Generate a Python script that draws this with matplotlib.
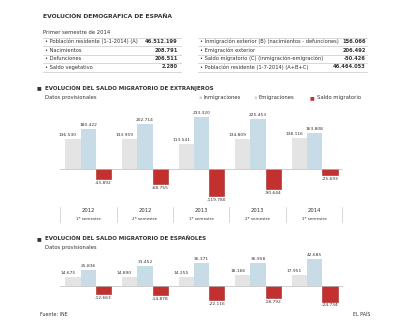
import matplotlib
matplotlib.use("Agg")
import matplotlib.pyplot as plt
import numpy as np

W, H = 414, 323

# resumen demografico (primer semestre 2014)
left_labels = ["• Población residente (1-1-2014) (A)", "• Nacimientos", "• Defunciones", "• Saldo vegetativo"]
left_values = ["46.512.199", "208.791", "206.511", "2.280"]
right_labels = ["• Inmigración exterior (B) (nacimientos - defunciones)", "• Emigración exterior",
                "• Saldo migratorio (C) (inmigración-emigración)", "• Población residente (1-7-2014) (A+B+C)"]
right_values = ["156.066", "206.492", "-50.426", "46.464.053"]

# periodos
years = ["2012", "2012", "2013", "2013", "2014"]
semesters = ["1º semestre", "2º semestre", "1º semestre", "2º semestre", "1º semestre"]

# extranjeros
ext_inmig = [136530, 133959, 113541, 134809, 138116]
ext_emig = [180422, 202714, 233320, 225453, 163808]
ext_saldo = [-43892, -68755, -119780, -90644, -25693]

# espanoles
esp_inmig = [14675, 14890, 14255, 18166, 17951]
esp_emig = [25836, 31452, 36371, 36958, 42685]
esp_saldo = [-12663, -14878, -22116, -18792, -24734]

c_inm = "#e4e4e4"
c_emi = "#c8dce8"
c_sal = "#c2312f"
c_txt = "#333333"
c_line = "#c8c8c8"

fig = plt.figure(figsize=(W / 100, H / 100), dpi=100)
fig.patch.set_facecolor("white")


def px(x, y):
    return x / W, 1 - y / H


def text(x, y, s, **kw):
    kw.setdefault("fontsize", 3.7)
    kw.setdefault("color", c_txt)
    kw.setdefault("va", "center")
    fig.text(*px(x, y), s, **kw)


def hline(x0, x1, y, color=c_line, lw=0.5):
    fig.add_artist(plt.Line2D([x0 / W, x1 / W], [1 - y / H, 1 - y / H], color=color, lw=lw))


def fmt(v):
    return f"{v:,}".replace(",", ".")


# cabecera
text(43, 16, "EVOLUCIÓN DEMOGRÁFICA DE ESPAÑA", fontsize=4.3, fontweight="bold")
text(43, 32, "Primer semestre de 2014", fontsize=3.8)

row_y = [41.5, 50, 58.5, 67]
for y in [37.5, 46, 54.5, 63, 71.5]:
    hline(43, 181, y)
    hline(198, 367, y)
for i in range(4):
    text(45, row_y[i], left_labels[i])
    text(178, row_y[i], left_values[i], ha="right", fontweight="bold")
    text(200, row_y[i], right_labels[i])
    text(366, row_y[i], right_values[i], ha="right", fontweight="bold")


def section(y, title):
    text(37, y, "■", fontsize=3.6)
    text(45, y, title, fontsize=4.0, fontweight="bold")
    text(45, y + 9, "Datos provisionales", fontsize=3.8)


section(88, "EVOLUCIÓN DEL SALDO MIGRATORIO DE EXTRANJEROS")
section(239, "EVOLUCIÓN DEL SALDO MIGRATORIO DE ESPAÑOLES")

# leyenda
text(199, 98, "▪", color="#d0d0d0", fontsize=3.6)
text(204, 98, "Inmigraciones", fontsize=3.8)
text(254, 98, "▪", color=c_emi, fontsize=3.6)
text(259, 98, "Emigraciones", fontsize=3.8)
text(310, 98, "■", color=c_sal, fontsize=3.6)
text(317, 98, "Saldo migratorio", fontsize=3.8)


def chart(top, bottom, ylim, inm, emi, sal, off):
    x0, x1 = 60, 343
    ax = fig.add_axes([x0 / W, 1 - bottom / H, (x1 - x0) / W, (bottom - top) / H])
    ax.set_xlim(-0.5, 4.5)
    ax.set_ylim(*ylim)
    ax.axis("off")
    x = np.arange(len(inm))
    bw = 0.27
    ax.bar(x - bw, inm, bw, color=c_inm)
    ax.bar(x, emi, bw, color=c_emi)
    ax.bar(x + bw, sal, bw, color=c_sal, edgecolor="#9e2422", lw=0.4)
    ax.axhline(0, color="#bbbbbb", lw=0.5)
    for b in np.arange(-0.5, 5, 1):
        ax.plot([b, b], [-off * 0.15, off * 0.15], color="#bbbbbb", lw=0.4)
    for i in range(len(inm)):
        ax.text(x[i] - bw - 0.09, inm[i] + off, fmt(inm[i]), ha="center", va="bottom", fontsize=3.2, color=c_txt)
        ax.text(x[i], emi[i] + off, fmt(emi[i]), ha="center", va="bottom", fontsize=3.2, color=c_txt)
        ax.text(x[i] + bw, sal[i] - off, fmt(sal[i]), ha="center", va="top", fontsize=3.2, color=c_txt)
    return ax


chart(108, 200, (-139000, 274000), ext_inmig, ext_emig, ext_saldo, 8000)
chart(255, 305, (-30000, 49000), esp_inmig, esp_emig, esp_saldo, 2700)

# etiquetas de periodo
bounds = [60, 117, 173, 229, 286, 342]
for b in bounds:
    fig.add_artist(plt.Line2D([b / W, b / W], [1 - 207 / H, 1 - 222 / H], color=c_line, lw=0.5))
for i in range(5):
    xc = (bounds[i] + bounds[i + 1]) / 2
    text(xc, 211, years[i], ha="center", fontsize=3.8)
    text(xc, 218.5, semesters[i], ha="center", fontsize=3.0)

text(40, 315, "Fuente: INE", fontsize=3.4)
text(370, 315, "EL PAÍS", ha="right", fontsize=3.4)

fig.savefig("out.png", dpi=100, facecolor="white")
